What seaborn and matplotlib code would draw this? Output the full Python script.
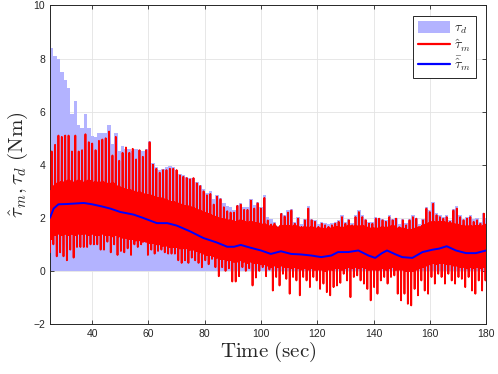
import numpy as np
import pandas as pd
import matplotlib
matplotlib.use("Agg")
import matplotlib.pyplot as plt
import seaborn as sns
from matplotlib.patches import Patch
from matplotlib.lines import Line2D

# ---------------- data ----------------
period = 1.2
t_start = 25.0

tau_d = [8.4, 8.1, 8.0, 7.5, 7.2, 6.9, 5.9, 6.4, 5.5, 5.4,
         5.9, 5.4, 5.1, 5.05, 5.2, 5.2, 5.2, 5.5, 4.8, 5.2,
         4.5, 4.7, 4.6, 4.6, 4.5, 4.6, 4.55, 4.5, 4.6, 4.9,
         4.05, 3.9, 3.8, 3.85, 3.9, 3.95, 3.9, 3.8, 3.65, 3.6,
         3.55, 3.5, 3.5, 3.35, 3.25, 3.1, 2.95, 3.0, 2.7, 2.85,
         2.75, 2.55, 2.45, 2.4, 2.3, 2.5, 2.55, 2.4, 2.4, 2.7,
         2.5, 2.6, 2.4, 2.85, 2.05, 1.95, 1.85, 1.7, 2.2, 2.1,
         2.3, 2.35, 1.85, 2.05, 1.75, 1.95, 2.45, 1.95, 1.9, 1.75,
         1.85, 1.8, 1.75, 1.8, 1.85, 1.9, 2.1, 1.85, 1.95, 1.8,
         2.1, 2.3, 2.1, 1.95, 1.85, 1.85, 2.05, 2.0, 1.95, 1.9,
         2.1, 1.95, 2.0, 1.75, 1.95, 1.8, 1.95, 2.1, 2.0, 1.75,
         1.95, 2.4, 2.3, 2.6, 2.2, 2.1, 2.05, 2.1, 1.9, 2.35,
         2.45, 2.1, 1.95, 2.05, 2.1, 1.95, 2.0, 1.85, 2.2, 2.0]

# upper spike of the red trace in each 1.2 s cycle
red_hi = [4.5, 4.75, 5.1, 5.05, 5.1, 5.1, 4.5, 5.1, 4.5, 4.55,
          5.15, 4.85, 4.8, 4.55, 4.9, 4.95, 5.0, 5.25, 4.35, 5.05,
          4.15, 4.45, 4.65, 4.45, 4.6, 4.2, 4.55, 4.3, 4.55, 4.85,
          4.0, 3.85, 3.7, 3.8, 3.8, 3.85, 3.85, 3.8, 3.6, 3.55,
          3.5, 3.45, 3.5, 3.3, 3.2, 3.0, 2.85, 2.9, 2.5, 2.8,
          2.7, 2.4, 2.25, 2.2, 2.2, 2.45, 2.5, 2.3, 2.3, 2.65,
          2.35, 2.55, 2.35, 2.75, 1.9, 1.75, 1.78, 1.6, 2.15, 2.05,
          2.2, 2.28, 1.78, 1.97, 1.66, 1.91, 2.35, 1.91, 1.85, 1.66,
          1.78, 1.72, 1.66, 1.72, 1.78, 1.85, 2.03, 1.78, 1.91, 1.72,
          2.03, 2.22, 2.03, 1.91, 1.78, 1.78, 1.97, 1.97, 1.91, 1.85,
          2.03, 1.91, 1.97, 1.65, 1.91, 1.72, 1.91, 2.03, 1.97, 1.65,
          1.91, 2.35, 2.22, 2.53, 2.1, 2.03, 1.97, 2.03, 1.85, 2.28,
          2.35, 2.03, 1.91, 1.97, 2.03, 1.85, 1.91, 1.78, 2.16, 1.91]

# lower spike of the red trace in each cycle
red_lo = [0.7, 1.0, 0.55, 0.7, 0.55, 0.4, 0.8, 0.5, 0.9, 0.9,
          0.9, 0.9, 1.0, 1.0, 1.0, 0.8, 0.8, 1.1, 0.7, 1.0,
          0.6, 0.75, 0.7, 0.85, 0.6, 1.0, 0.9, 1.0, 1.15, 0.6,
          0.8, 0.65, 0.75, 0.8, 0.7, 0.65, 0.65, 0.65, 0.4, 0.3,
          0.4, 0.3, 0.5, 0.4, 0.3, 0.14, 0.4, 0.25, 0.45, 0.14,
          -0.2, 0.14, 0.0, 0.1, -0.4, -0.4, -0.2, 0.14, 0.0, 0.1,
          -0.55, -0.25, 0.0, 0.14, -0.2, 0.05, -0.74, -0.23, -0.55, -0.11,
          -0.3, -0.86, -0.23, -0.36, -0.92, -0.23, -0.36, -0.61, -0.23, -0.36,
          -0.68, -0.48, -0.8, -0.92, -0.61, -0.55, -0.45, -0.11, -0.36, -0.99,
          -0.23, -0.17, -0.36, -0.48, -0.68, -1.11, -0.61, -0.86, -0.36, -0.23,
          -0.48, -0.23, -0.17, -0.86, -1.11, -0.86, -1.24, -1.3, -0.68, -0.92,
          -0.36, -0.74, -0.86, -0.23, -0.48, -0.11, -0.23, -0.48, -0.11, -0.36,
          -0.48, -0.23, -0.3, -0.61, -0.23, -0.74, -0.86, -0.36, -0.74, -0.36]

# upper / lower edge of the dense (solid) part of the red trace in each cycle
core_hi = [3.0, 3.2, 3.3, 3.35, 3.3, 3.4, 3.3, 3.35, 3.4, 3.3,
           3.35, 3.4, 3.3, 3.35, 3.3, 3.35, 3.3, 3.25, 3.3, 3.2,
           3.15, 3.1, 3.05, 3.05, 3.0, 2.95, 2.95, 2.9, 2.85, 2.85,
           2.8, 2.75, 2.75, 2.7, 2.65, 2.6, 2.6, 2.55, 2.5, 2.45,
           2.45, 2.4, 2.35, 2.3, 2.25, 2.2, 2.15, 2.1, 2.05, 2.0,
           1.95, 1.95, 1.9, 1.9, 1.85, 1.85, 1.9, 1.85, 1.8, 1.85,
           1.8, 1.8, 1.75, 1.75, 1.7, 1.65, 1.7, 1.65, 1.7, 1.7,
           1.7, 1.65, 1.7, 1.65, 1.6, 1.65, 1.6, 1.65, 1.6, 1.6,
           1.6, 1.55, 1.6, 1.6, 1.65, 1.65, 1.6, 1.65, 1.7, 1.65,
           1.7, 1.65, 1.7, 1.65, 1.6, 1.6, 1.6, 1.6, 1.65, 1.6,
           1.65, 1.7, 1.6, 1.6, 1.6, 1.55, 1.55, 1.55, 1.6, 1.65,
           1.7, 1.75, 1.8, 1.85, 1.8, 1.85, 1.85, 1.8, 1.8, 1.75,
           1.75, 1.7, 1.7, 1.65, 1.7, 1.65, 1.7, 1.65, 1.7, 1.75]
core_lo = [1.2, 1.35, 1.4, 1.35, 1.4, 1.35, 1.4, 1.35, 1.4, 1.4,
           1.4, 1.35, 1.4, 1.35, 1.35, 1.4, 1.35, 1.35, 1.3, 1.35,
           1.3, 1.25, 1.25, 1.2, 1.2, 1.15, 1.15, 1.1, 1.1, 1.05,
           1.05, 1.0, 1.0, 0.95, 0.95, 0.9, 0.9, 0.9, 0.85, 0.85,
           0.85, 0.8, 0.8, 0.75, 0.7, 0.65, 0.6, 0.6, 0.55, 0.5,
           0.45, 0.45, 0.4, 0.4, 0.35, 0.35, 0.4, 0.35, 0.3, 0.35,
           0.3, 0.3, 0.25, 0.25, 0.2, 0.15, 0.2, 0.15, 0.2, 0.15,
           0.15, 0.1, 0.15, 0.1, 0.05, 0.1, 0.05, 0.1, 0.05, 0.05,
           0.05, 0.0, 0.05, 0.05, 0.1, 0.1, 0.05, 0.1, 0.15, 0.1,
           0.15, 0.1, 0.15, 0.1, 0.05, 0.05, 0.05, 0.05, 0.1, 0.05,
           0.1, 0.15, 0.05, 0.05, 0.05, 0.0, 0.0, 0.0, 0.05, 0.1,
           0.15, 0.2, 0.25, 0.3, 0.25, 0.3, 0.3, 0.25, 0.25, 0.2,
           0.2, 0.15, 0.15, 0.1, 0.15, 0.1, 0.15, 0.1, 0.15, 0.2]

mean_t = [25, 26.3, 28, 31, 37, 40, 43, 46.4, 50, 54.8, 58, 63, 66.7, 70, 74.8,
          79.5, 84.3, 88, 90.4, 92.8, 96.4, 100, 103.5, 107.1, 110.7, 114.3,
          117.9, 121.4, 125, 127.4, 131, 134.6, 138.2, 140.6, 143, 144.8,
          147.9, 150.2, 153.8, 157.4, 161, 163.3, 166, 169.3, 172.9, 176.4, 180]
mean_v = [2.0, 2.35, 2.51, 2.52, 2.56, 2.51, 2.44, 2.35, 2.22, 2.12, 2.0, 1.8,
          1.8, 1.71, 1.49, 1.24, 1.07, 0.91, 0.91, 0.98, 0.87, 0.77, 0.64, 0.74,
          0.64, 0.62, 0.58, 0.52, 0.58, 0.71, 0.71, 0.77, 0.58, 0.49, 0.67, 0.77,
          0.62, 0.52, 0.49, 0.71, 0.8, 0.84, 0.93, 0.77, 0.67, 0.67, 0.77]

x_ticks = [40, 60, 80, 100, 120, 140, 160, 180]
y_ticks = [-2, 0, 2, 4, 6, 8, 10]

# ---------------- build tables ----------------
n = len(tau_d)
t_k = t_start + period * np.arange(n)

offs = np.array([0.0, 0.2, 0.4, 0.6, 0.8, 1.0])
red_t = (t_k[:, None] + offs[None, :]).ravel()
red_v = np.column_stack([red_lo, core_hi, core_lo, red_hi, core_lo, core_hi]).ravel()
df_red = pd.DataFrame({"t": red_t, "v": red_v})
df_mean = pd.DataFrame({"t": mean_t, "v": mean_v})
df_bar = pd.DataFrame({"t": t_k + period / 2, "w": tau_d})

# ---------------- plot ----------------
sns.set_style("ticks")
plt.rcParams["font.family"] = ["Liberation Sans", "DejaVu Sans"]
plt.rcParams["mathtext.fontset"] = "cm"

fig = plt.figure(figsize=(4.98, 3.74), dpi=100)
ax = fig.add_axes([0.1004, 0.1337, 0.8756, 0.8516])

bar_col = (0.70, 0.70, 1.0)
sns.histplot(data=df_bar, x="t", weights="w", binwidth=period,
             binrange=(t_start, t_start + n * period), color=bar_col,
             alpha=1.0, linewidth=0, ax=ax, zorder=2)
sns.lineplot(data=df_red, x="t", y="v", color="#ff0000", linewidth=1.3,
             sort=False, estimator=None, ax=ax, zorder=3)
sns.lineplot(data=df_mean, x="t", y="v", color="#0000ff", linewidth=1.4,
             sort=False, estimator=None, ax=ax, zorder=4)

ax.set_xlim(25, 180)
ax.set_ylim(-2, 10)
ax.set_xticks(x_ticks)
ax.set_yticks(y_ticks)
ax.grid(True, color="#e3e3e3", linewidth=0.6, zorder=0)
ax.set_axisbelow(True)
ax.tick_params(direction="in", top=True, right=True, length=3, width=0.6,
               colors="#262626", labelsize=7.5, labelcolor="#262626")
for s in ax.spines.values():
    s.set_color("#262626")
    s.set_linewidth(0.7)

ax.set_xlabel(r"$\mathrm{Time\ (sec)}$", fontsize=15, labelpad=1)
ax.set_ylabel(r"$\hat{\tau}_m, \tau_d\ \mathrm{(Nm)}$", fontsize=15, labelpad=2)

handles = [Patch(facecolor=bar_col, edgecolor="none"),
           Line2D([], [], color="#ff0000", linewidth=1.6),
           Line2D([], [], color="#0000ff", linewidth=1.6)]
labels = [r"$\tau_d$", r"$\hat{\tau}_m$", r"$\bar{\hat{\tau}}_m$"]
leg = ax.legend(handles, labels, loc="upper right", fontsize=10,
                fancybox=False, framealpha=1.0, edgecolor="#262626",
                borderaxespad=0.75, handlelength=2.3, handleheight=0.9,
                handletextpad=0.3, borderpad=0.35, labelspacing=0.1)
leg.get_frame().set_linewidth(0.7)

fig.savefig("out.png", dpi=100)
